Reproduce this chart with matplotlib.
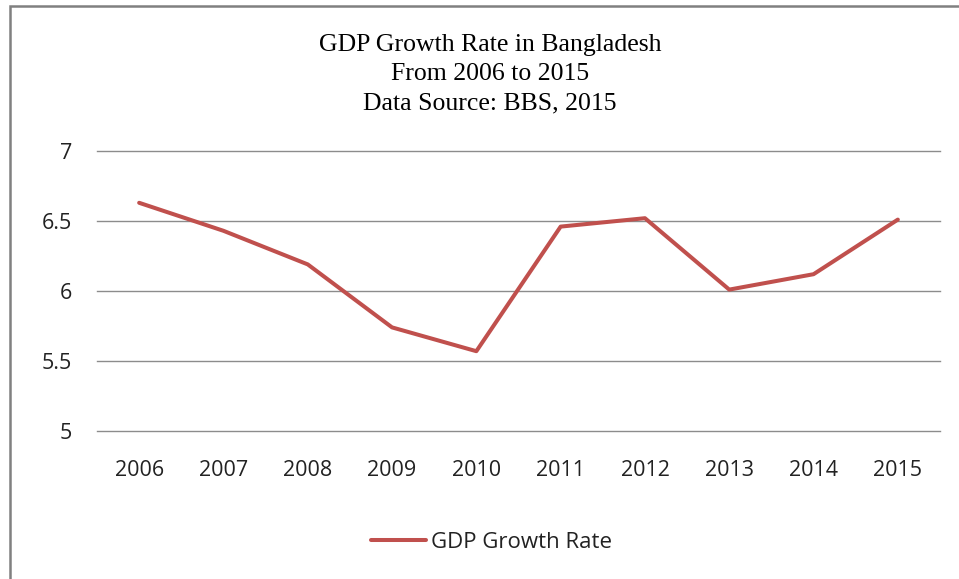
import matplotlib
matplotlib.use('Agg')
import matplotlib.pyplot as plt
from matplotlib.patches import Rectangle

# GDP growth rate in Bangladesh (BBS, 2015)
years = ['2006', '2007', '2008', '2009', '2010', '2011', '2012', '2013', '2014', '2015']
growth = [6.63, 6.43, 6.19, 5.74, 5.57, 6.46, 6.52, 6.01, 6.12, 6.51]
y_ticks = [5, 5.5, 6, 6.5, 7]
y_labels = ['5', '5.5', '6', '6.5', '7']

fig = plt.figure(figsize=(9.59, 5.79), dpi=100)
ax = fig.add_axes([97 / 959, 1 - 431 / 579, (940 - 97) / 959, (431 - 151) / 579])

x = list(range(len(years)))
line, = ax.plot(x, growth, color='#C0504D', linewidth=2.9, solid_capstyle='round',
                label='GDP Growth Rate')

ax.set_xlim(-0.5, len(years) - 0.5)
ax.set_ylim(5, 7)
ax.set_xticks(x)
ax.set_xticklabels(years)
ax.set_yticks(y_ticks)
ax.set_yticklabels(y_labels)
ax.tick_params(length=0, labelsize=15.5, labelcolor='#222222')
ax.tick_params(axis='x', pad=21)
ax.tick_params(axis='y', pad=18)
for lab in ax.get_xticklabels() + ax.get_yticklabels():
    lab.set_family('Open Sans')
ax.grid(axis='y', color='#8c8c8c', linewidth=1)
for gl in ax.get_ygridlines():
    gl.set_clip_on(False)
ax.set_axisbelow(True)
for s in ax.spines.values():
    s.set_visible(False)

title_lines = ['GDP Growth Rate in Bangladesh', 'From 2006 to 2015', 'Data Source: BBS, 2015']
for i, t in enumerate(title_lines):
    fig.text(490 / 959, 1 - (45 + 29 * i) / 579, t, ha='center', va='center',
             family='Liberation Serif', fontsize=18.5)

fig.legend(handles=[line], loc='center', bbox_to_anchor=(491 / 959, 1 - 542 / 579),
           frameon=False, prop={'family': 'Open Sans', 'size': 16}, handlelength=2.5,
           handletextpad=0.2, labelcolor='#222222')

# outer chart-area border (left and top visible)
fig.patches.append(Rectangle((9.5 / 959, -0.1), 1.1, 1 - 5.5 / 579 + 0.1,
                             transform=fig.transFigure, fill=False,
                             edgecolor='#808080', linewidth=1.8))

fig.savefig('out.png', dpi=100)
